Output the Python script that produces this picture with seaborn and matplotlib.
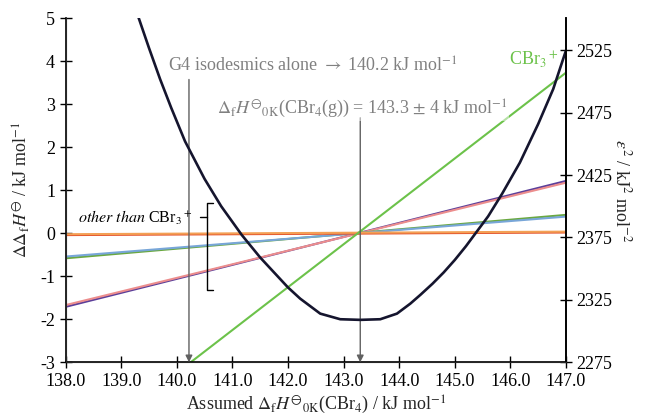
import matplotlib
matplotlib.use('Agg')
import matplotlib.pyplot as plt
import seaborn as sns

# straight lines (left axis), read at x = 138.0 and x = 147.0
x_ends = [138.0, 147.0]
orange_light = [-0.02, 0.04]
orange_dark = [-0.04, 0.02]
blue = [-0.54, 0.39]
green_dark = [-0.58, 0.43]
pink = [-1.67, 1.18]
purple = [-1.71, 1.22]

# CBr3+ line
cbr3_x = [140.25, 147.0]
cbr3_y = [-3.0, 3.74]

# epsilon^2 curve (right axis)
eps_x = [139.3, 139.5, 139.7, 139.9, 140.15, 140.5, 140.8, 141.17, 141.5,
         142.0, 142.22, 142.58, 142.94, 143.3, 143.66, 143.96, 144.2,
         144.38, 144.6, 144.8, 145.0, 145.2, 145.4, 145.6, 145.85, 146.17,
         146.5, 146.77, 147.0]
eps_y = [2553, 2527, 2502, 2479, 2452, 2422, 2400, 2377, 2359,
         2335, 2326, 2314, 2309.5, 2309, 2309.5, 2314, 2322,
         2329, 2338, 2347, 2357, 2368, 2380, 2392, 2410, 2435,
         2466, 2494, 2525]

x_ticks = [138.0, 139.0, 140.0, 141.0, 142.0, 143.0, 144.0, 145.0, 146.0, 147.0]
left_ticks = [-3, -2, -1, 0, 1, 2, 3, 4, 5]
right_ticks = [2275, 2325, 2375, 2425, 2475, 2525]

sns.set_style('ticks')
plt.rcParams['font.family'] = ['Liberation Serif', 'DejaVu Serif']
plt.rcParams['mathtext.fontset'] = 'stix'
plt.rcParams['axes.unicode_minus'] = False

fig = plt.figure(figsize=(6.46, 4.2), dpi=100)
ax = fig.add_axes([0.1014, 0.1374, 0.7748, 0.8186])

lw = 1.5
sns.lineplot(x=x_ends, y=purple, ax=ax, color='#5b3f9a', lw=lw)
sns.lineplot(x=x_ends, y=pink, ax=ax, color='#ec8d8d', lw=lw)
sns.lineplot(x=x_ends, y=green_dark, ax=ax, color='#6aa840', lw=lw)
sns.lineplot(x=x_ends, y=blue, ax=ax, color='#78a6d8', lw=lw)
sns.lineplot(x=x_ends, y=orange_dark, ax=ax, color='#e4502a', lw=lw)
sns.lineplot(x=x_ends, y=orange_light, ax=ax, color='#f3a055', lw=lw)
sns.lineplot(x=cbr3_x, y=cbr3_y, ax=ax, color='#6cc24a', lw=lw)

ax.set_xlim(138.0, 147.0)
ax.set_ylim(-3, 5)
ax.set_xticks(x_ticks)
ax.set_xticklabels(['%.1f' % v for v in x_ticks])
ax.set_yticks(left_ticks)
ax.tick_params(direction='inout', length=8, width=1, labelsize=13, colors='black')
for s in ['left', 'bottom', 'right']:
    ax.spines[s].set_color('black')
    ax.spines[s].set_linewidth(1.2)
ax.spines['top'].set_visible(False)

ax.set_xlabel(r'Assumed $\Delta_{\mathrm{f}}H^{\ominus}{}_{\mathrm{0K}}$(CBr$_4$) / kJ mol$^{-1}$',
              fontsize=13, labelpad=3)
ax.set_ylabel(r'$\Delta\Delta_{\mathrm{f}}H^{\ominus}$ / kJ mol$^{-1}$', fontsize=13, labelpad=6)

grey = '#808080'
arrow_col = '#606060'
ax.annotate('', xy=(140.22, -3), xytext=(140.22, 3.58),
            arrowprops=dict(arrowstyle='-|>', color=arrow_col, lw=1, mutation_scale=10,
                            shrinkA=0, shrinkB=0))
ax.annotate('', xy=(143.3, -3), xytext=(143.3, 2.69),
            arrowprops=dict(arrowstyle='-|>', color=arrow_col, lw=1, mutation_scale=10,
                            shrinkA=0, shrinkB=0))
ax.text(139.84, 3.89, r'G4 isodesmics alone $\rightarrow$ 140.2 kJ mol$^{-1}$',
        color=grey, fontsize=13, va='center', ha='left')
ax.text(140.72, 2.9, r'$\Delta_{\mathrm{f}}H^{\ominus}{}_{\mathrm{0K}}$(CBr$_4$(g)) = 143.3 $\pm$ 4 kJ mol$^{-1}$',
        color=grey, fontsize=13, va='center', ha='left',
        bbox=dict(facecolor='white', edgecolor='none', alpha=0.5, pad=1))
ax.text(145.98, 4.05, r'CBr$_3$$^+$', color='#6cc24a', fontsize=13, va='center', ha='left')
ax.text(140.27, 0.36, r'$\mathit{other\ than}$ CBr$_3$$^+$', color='black', fontsize=11.5,
        va='center', ha='right')

# bracket grouping the other fragments
ax.plot([140.65, 140.545, 140.545, 140.65], [0.71, 0.71, -1.31, -1.31], color='black', lw=1)
ax.plot([140.42, 140.545], [0.39, 0.39], color='black', lw=1)

ax2 = ax.twinx()
sns.lineplot(x=eps_x, y=eps_y, ax=ax2, color='#15152e', lw=1.9, sort=False)
ax2.set_ylim(2275, 2550.5)
ax2.set_yticks(right_ticks)
ax2.tick_params(direction='inout', length=8, width=1, labelsize=13, colors='black')
ax2.spines['top'].set_visible(False)
ax2.spines['right'].set_color('black')
ax2.spines['right'].set_linewidth(1.2)
ax2.set_ylabel(r'$\varepsilon^2$ / kJ$^2$ mol$^{-2}$', fontsize=13, rotation=-90, labelpad=14)

fig.savefig('out.png', dpi=100)
